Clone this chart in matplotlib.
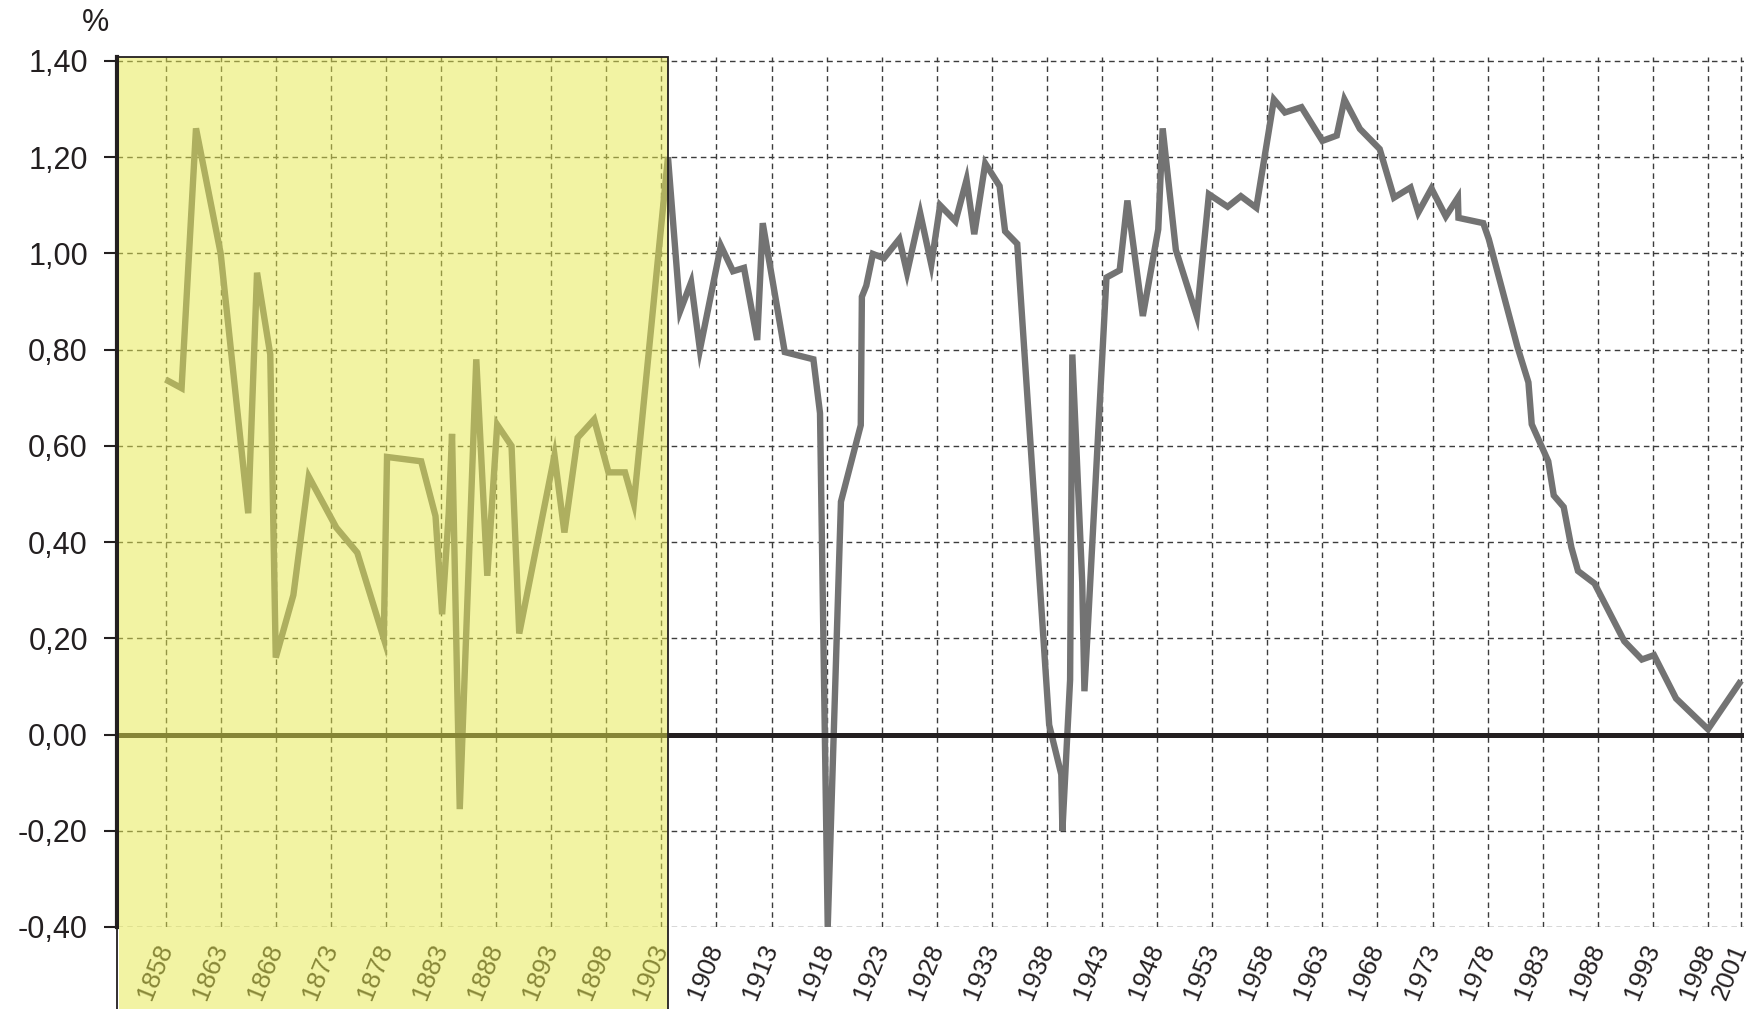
import matplotlib
matplotlib.use("Agg")
import matplotlib.pyplot as plt
import matplotlib.font_manager as fm
from matplotlib.patches import Rectangle

# ---------------- data ----------------
years = [1858.0, 1859.45, 1860.76, 1863.0, 1865.5, 1866.3, 1867.5, 1868.0, 1869.6, 1871.0,
         1873.5, 1875.4, 1877.8, 1878.1, 1881.2, 1882.5, 1883.1, 1883.7, 1884.0, 1884.7,
         1886.2, 1887.2, 1888.1, 1889.4, 1890.1, 1893.3, 1894.2, 1895.4, 1896.9, 1898.2,
         1899.7, 1900.5, 1903.6, 1904.7, 1905.7, 1906.5, 1908.4, 1909.5, 1910.5, 1911.7,
         1912.2, 1914.2, 1916.8, 1917.4, 1918.1, 1919.3, 1921.1, 1921.2, 1921.6, 1922.2,
         1923.2, 1924.6, 1925.3, 1926.5, 1927.5, 1928.3, 1929.7, 1930.7, 1931.4, 1932.4,
         1933.7, 1934.2, 1935.3, 1938.2, 1939.3, 1939.4, 1940.1, 1940.3, 1941.2, 1941.4,
         1943.4, 1944.6, 1945.3, 1946.7, 1948.1, 1948.5, 1949.7, 1951.6, 1952.7, 1954.4,
         1955.6, 1957.0, 1958.6, 1959.6, 1961.1, 1963.0, 1964.3, 1965.0, 1966.4, 1968.2,
         1969.5, 1971.0, 1971.7, 1972.9, 1974.2, 1975.3, 1975.35, 1977.6, 1978.1, 1980.7,
         1981.7, 1982.0, 1983.5, 1984.0, 1984.9, 1985.6, 1986.2, 1987.7, 1990.4, 1992.0,
         1993.1, 1995.1, 1998.0, 2001.0]
values = [0.738, 0.72, 1.26, 1.00, 0.46, 0.96, 0.79, 0.16, 0.29, 0.536,
          0.43, 0.378, 0.20, 0.577, 0.568, 0.454, 0.25, 0.46, 0.625, -0.155,
          0.78, 0.33, 0.644, 0.60, 0.21, 0.58, 0.42, 0.617, 0.655, 0.545,
          0.545, 0.48, 1.20, 0.88, 0.94, 0.80, 1.016, 0.963, 0.97, 0.82,
          1.063, 0.795, 0.78, 0.668, -0.40, 0.484, 0.643, 0.91, 0.933, 0.999,
          0.99, 1.03, 0.96, 1.083, 0.977, 1.10, 1.067, 1.153, 1.04, 1.187,
          1.14, 1.046, 1.02, 0.02, -0.083, -0.20, 0.114, 0.79, 0.316, 0.09,
          0.95, 0.965, 1.11, 0.87, 1.05, 1.26, 1.007, 0.87, 1.123, 1.097,
          1.119, 1.095, 1.32, 1.293, 1.304, 1.234, 1.245, 1.32, 1.259, 1.217,
          1.116, 1.137, 1.085, 1.135, 1.077, 1.116, 1.074, 1.063, 1.03, 0.806,
          0.732, 0.645, 0.568, 0.497, 0.473, 0.389, 0.34, 0.314, 0.194, 0.156,
          0.165, 0.075, 0.011, 0.112]

x_ticks = [1858, 1863, 1868, 1873, 1878, 1883, 1888, 1893, 1898, 1903, 1908, 1913,
           1918, 1923, 1928, 1933, 1938, 1943, 1948, 1953, 1958, 1963, 1968, 1973,
           1978, 1983, 1988, 1993, 1998, 2001]
x_tick_labels = [str(y) for y in x_ticks]
y_ticks = [-0.4, -0.2, 0.0, 0.2, 0.4, 0.6, 0.8, 1.0, 1.2, 1.4]
y_tick_labels = ["-0,40", "-0,20", "0,00", "0,20", "0,40", "0,60", "0,80", "1,00", "1,20", "1,40"]
unit_label = "%"

# ---------------- style ----------------
names = {f.name for f in fm.fontManager.ttflist}
font = "Liberation Sans" if "Liberation Sans" in names else "DejaVu Sans"
plt.rcParams["font.family"] = [font, "DejaVu Sans"]

W, H = 1760, 1009
fig = plt.figure(figsize=(W / 100, H / 100), dpi=100)
fig.patch.set_facecolor("white")

ax_l, ax_r, ax_t, ax_b = 117, 1743.7, 57, 927
ax = fig.add_axes([ax_l / W, (H - ax_b) / H, (ax_r - ax_l) / W, (ax_b - ax_t) / H])

ax.set_xlim(1853.59, 2001.24)
ax.set_ylim(-0.4, 1.4083)

ax.plot(years, values, color="#737373", lw=4.6, solid_joinstyle="miter",
        solid_capstyle="butt", zorder=4)
ax.axhline(0, color="#231f20", lw=3.6, zorder=5)

ax.set_xticks(x_ticks)
ax.set_xticklabels(x_tick_labels, fontsize=18.5, color="#231f20")
ax.set_yticks(y_ticks)
ax.set_yticklabels(y_tick_labels, fontsize=22, color="#231f20")
plt.setp(ax.get_xticklabels(), rotation=68, ha="right", va="center",
         rotation_mode="anchor")

ax.grid(True, axis="both", linestyle=(0, (4, 3)), lw=1.0, color="#3c3c3c", zorder=1)
ax.set_axisbelow(True)

ax.tick_params(axis="x", length=0, pad=13.3)
ax.tick_params(axis="y", length=9.4, width=1.5, pad=11.5, color="#231f20", direction="out")

for s in ["top", "right", "bottom"]:
    ax.spines[s].set_visible(False)
ax.spines["left"].set_linewidth(3.0)
ax.spines["left"].set_color("#231f20")

fig.text(95 / W, 1 - 23 / H, unit_label, fontsize=22, color="#231f20",
         ha="center", va="center")

# translucent yellow overlay on the early period
x_edge = 668
overlay = Rectangle((119 / W, 0), (x_edge - 119) / W, (H - ax_t) / H,
                    transform=fig.transFigure, facecolor=(231 / 255, 233 / 255, 76 / 255),
                    alpha=0.51, edgecolor="none", zorder=10)
fig.add_artist(overlay)
border = Rectangle((ax_l / W, -0.01), (x_edge - ax_l) / W, (H - ax_t) / H + 0.01,
                   transform=fig.transFigure, facecolor="none", edgecolor="#231f20",
                   lw=1.3, zorder=11)
fig.add_artist(border)

fig.savefig("out.png", dpi=100)
